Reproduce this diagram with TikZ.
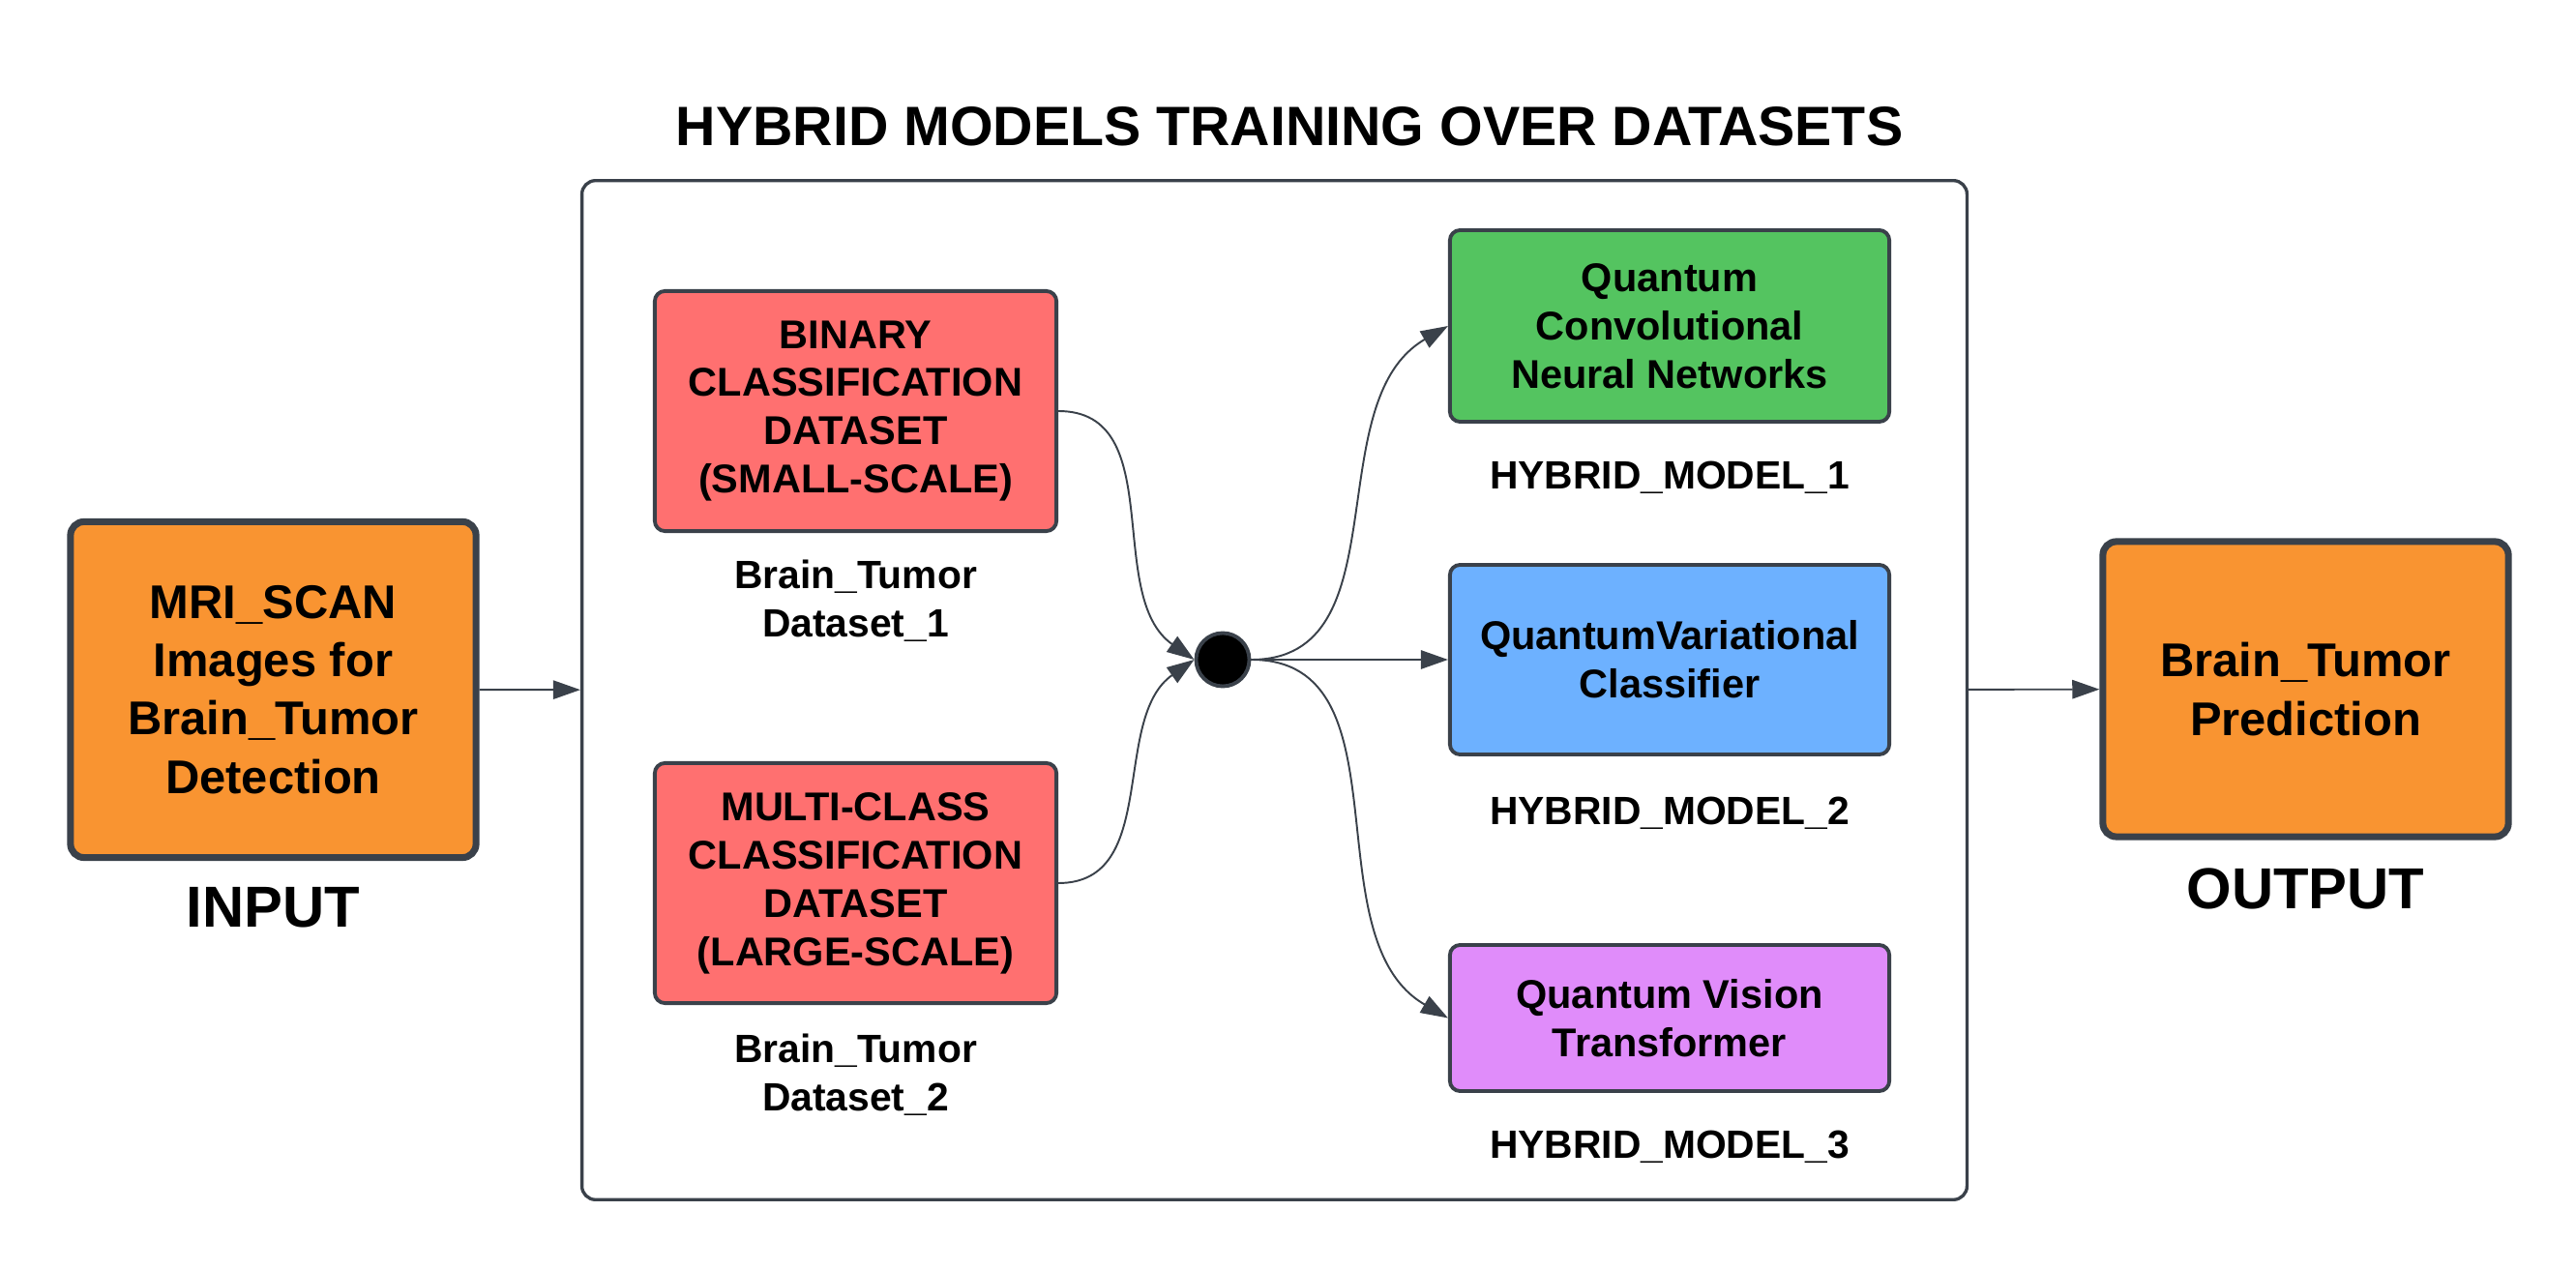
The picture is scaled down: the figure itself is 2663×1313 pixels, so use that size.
\documentclass[tikz,border=0pt]{standalone}
\usepackage{fontspec}
\setmainfont{Liberation Sans}
\usetikzlibrary{arrows.meta}

\definecolor{edgegray}{HTML}{3A414A}
\definecolor{ioorange}{HTML}{F99431}
\definecolor{dsetred}{HTML}{FF7070}
\definecolor{qgreen}{HTML}{54C460}
\definecolor{qblue}{HTML}{6DB1FF}
\definecolor{qpurple}{HTML}{E08CFA}

\begin{document}
\begin{tikzpicture}[x=0.01cm,y=-0.01cm,>={Triangle[length=8pt,width=5.5pt]},
  io/.style={draw=edgegray,line width=2pt,fill=ioorange,rounded corners=4pt,minimum width=4.19cm,align=center,font=\bfseries\fontsize{13.9}{17.1}\selectfont},
  dset/.style={draw=edgegray,line width=1.1pt,fill=dsetred,rounded corners=3pt,minimum width=4.15cm,minimum height=2.48cm,align=center,font=\bfseries\fontsize{11.8}{14.2}\selectfont},
  model/.style={draw=edgegray,line width=1.1pt,rounded corners=3pt,minimum width=4.54cm,align=center,font=\bfseries\fontsize{11.8}{14.2}\selectfont},
  caption/.style={align=center,font=\bfseries\fontsize{11.6}{14.2}\selectfont},
  big/.style={font=\bfseries\fontsize{17}{20}\selectfont},
  flow/.style={->,draw=edgegray,line width=0.55pt}]
\useasboundingbox (0,0) rectangle (2663,1313);

% input and output
\node[io,minimum height=3.47cm] (inp) at (282.5,713) {MRI\_SCAN\\Images for\\Brain\_Tumor\\Detection};
\node[big] (inplbl) [below of=inp,node distance=2.25cm] {INPUT};
\node[io,minimum height=3.05cm] (out) at (2383.5,712.5) {Brain\_Tumor\\Prediction};
\node[big] (outlbl) [below of=out,node distance=2.06cm] {OUTPUT};

% training frame
\node[draw=edgegray,line width=0.95pt,rounded corners=4pt,minimum width=14.31cm,minimum height=10.53cm] (train) at (1317.5,713.5) {};
\node[font=\bfseries\fontsize{16.3}{19}\selectfont] (title) at (1333,131) {HYBRID MODELS TRAINING OVER DATASETS};

% datasets
\node[dset] (bin) at (884.5,425) {BINARY\\CLASSIFICATION\\DATASET\\(SMALL-SCALE)};
\node[caption] (binlbl) [below of=bin,node distance=1.96cm] {Brain\_Tumor\\Dataset\_1};
\node[dset] (multi) at (884.5,913) {MULTI-CLASS\\CLASSIFICATION\\DATASET\\(LARGE-SCALE)};
\node[caption] (multilbl) [below of=multi,node distance=1.98cm] {Brain\_Tumor\\Dataset\_2};

\node[circle,draw=edgegray,line width=1.1pt,fill=black,minimum size=0.55cm,inner sep=0pt] (junc) at (1264,682) {};

% models
\node[model,fill=qgreen,minimum height=1.98cm] (qcnn) at (1726,337) {Quantum\\Convolutional\\Neural Networks};
\node[caption] (qcnnlbl) [below of=qcnn,node distance=1.57cm] {HYBRID\_MODEL\_1};
\node[model,fill=qblue,minimum height=1.96cm] (qvc) at (1726,682) {QuantumVariational\\Classifier};
\node[caption] (qvclbl) [below of=qvc,node distance=1.59cm] {HYBRID\_MODEL\_2};
\node[model,fill=qpurple,minimum height=1.51cm] (qvit) at (1726,1052.5) {Quantum Vision\\Transformer};
\node[caption] (qvitlbl) [below of=qvit,node distance=1.33cm] {HYBRID\_MODEL\_3};

\path (inp) edge[flow] (train);
\path (train) edge[flow] (out);
\path (bin.east) edge[flow,out=0,in=145] (junc.west);
\path (multi.east) edge[flow,out=0,in=215] (junc.west);
\path (junc.east) edge[flow,out=0,in=210] (qcnn.west);
\path (junc.east) edge[flow] (qvc.west);
\path (junc.east) edge[flow,out=0,in=150] (qvit.west);
\end{tikzpicture}
\end{document}
